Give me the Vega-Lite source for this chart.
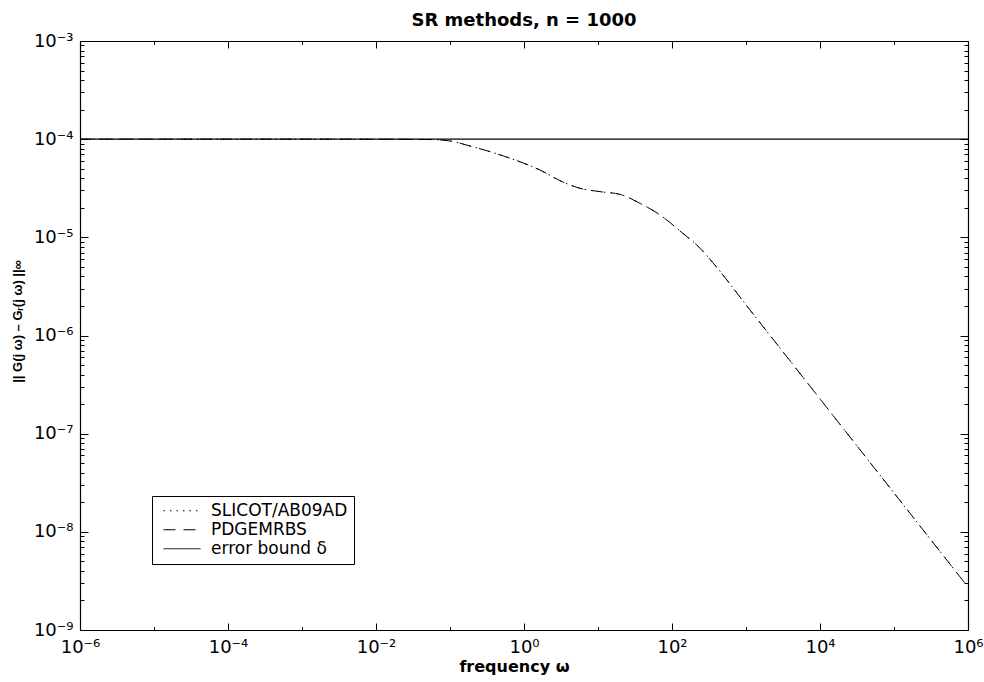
{
  "$schema": "https://vega.github.io/schema/vega-lite/v6.json",
  "autosize": {"type": "none"},
  "width": 888,
  "height": 589,
  "padding": {"left": 80, "top": 41, "right": 16, "bottom": 52},
  "background": "white",
  "config": {
    "view": {"stroke": null},
    "font": "DejaVu Sans",
    "axis": {
      "grid": false,
      "domainColor": "black",
      "domainWidth": 1.2,
      "tickColor": "black",
      "tickWidth": 1,
      "labelColor": "black",
      "labelFont": "DejaVu Sans",
      "labelFontSize": 18,
      "titleColor": "black",
      "titleFont": "DejaVu Sans",
      "titleFontWeight": "bold"
    }
  },
  "title": {
    "text": "SR methods, n = 1000",
    "font": "DejaVu Sans",
    "fontSize": 18,
    "fontWeight": "bold",
    "color": "black",
    "anchor": "middle",
    "frame": "group",
    "baseline": "alphabetic",
    "offset": 14,
    "dy": 26
  },
  "datasets": {
    "curves": [
      {"f": 0.000001, "v": 0.0001, "series": "SLICOT/AB09AD"},
      {"f": 0.001, "v": 0.0001, "series": "SLICOT/AB09AD"},
      {"f": 0.01, "v": 0.0000999, "series": "SLICOT/AB09AD"},
      {"f": 0.0537, "v": 0.0000991, "series": "SLICOT/AB09AD"},
      {"f": 0.1, "v": 0.0000958, "series": "SLICOT/AB09AD"},
      {"f": 0.186, "v": 0.0000852, "series": "SLICOT/AB09AD"},
      {"f": 0.348, "v": 0.0000746, "series": "SLICOT/AB09AD"},
      {"f": 0.71, "v": 0.0000624, "series": "SLICOT/AB09AD"},
      {"f": 1.0, "v": 0.0000568, "series": "SLICOT/AB09AD"},
      {"f": 1.644, "v": 0.0000485, "series": "SLICOT/AB09AD"},
      {"f": 3.06, "v": 0.0000378, "series": "SLICOT/AB09AD"},
      {"f": 5.71, "v": 0.0000316, "series": "SLICOT/AB09AD"},
      {"f": 10.64, "v": 0.0000292, "series": "SLICOT/AB09AD"},
      {"f": 19.8, "v": 0.0000274, "series": "SLICOT/AB09AD"},
      {"f": 37.0, "v": 0.0000222, "series": "SLICOT/AB09AD"},
      {"f": 68.9, "v": 0.0000169, "series": "SLICOT/AB09AD"},
      {"f": 128.2, "v": 0.0000116, "series": "SLICOT/AB09AD"},
      {"f": 238.8, "v": 0.00000776, "series": "SLICOT/AB09AD"},
      {"f": 358, "v": 0.0000055, "series": "SLICOT/AB09AD"},
      {"f": 1132, "v": 0.00000182, "series": "SLICOT/AB09AD"},
      {"f": 3162, "v": 0.000000681, "series": "SLICOT/AB09AD"},
      {"f": 10000, "v": 0.000000226, "series": "SLICOT/AB09AD"},
      {"f": 31623, "v": 0.000000075, "series": "SLICOT/AB09AD"},
      {"f": 100000, "v": 0.0000000249, "series": "SLICOT/AB09AD"},
      {"f": 316228, "v": 0.00000000826, "series": "SLICOT/AB09AD"},
      {"f": 1000000, "v": 0.00000000274, "series": "SLICOT/AB09AD"},
      {"f": 0.000001, "v": 0.0001, "series": "PDGEMRBS"},
      {"f": 0.001, "v": 0.0001, "series": "PDGEMRBS"},
      {"f": 0.01, "v": 0.0000999, "series": "PDGEMRBS"},
      {"f": 0.0537, "v": 0.0000991, "series": "PDGEMRBS"},
      {"f": 0.1, "v": 0.0000958, "series": "PDGEMRBS"},
      {"f": 0.186, "v": 0.0000852, "series": "PDGEMRBS"},
      {"f": 0.348, "v": 0.0000746, "series": "PDGEMRBS"},
      {"f": 0.71, "v": 0.0000624, "series": "PDGEMRBS"},
      {"f": 1.0, "v": 0.0000568, "series": "PDGEMRBS"},
      {"f": 1.644, "v": 0.0000485, "series": "PDGEMRBS"},
      {"f": 3.06, "v": 0.0000378, "series": "PDGEMRBS"},
      {"f": 5.71, "v": 0.0000316, "series": "PDGEMRBS"},
      {"f": 10.64, "v": 0.0000292, "series": "PDGEMRBS"},
      {"f": 19.8, "v": 0.0000274, "series": "PDGEMRBS"},
      {"f": 37.0, "v": 0.0000222, "series": "PDGEMRBS"},
      {"f": 68.9, "v": 0.0000169, "series": "PDGEMRBS"},
      {"f": 128.2, "v": 0.0000116, "series": "PDGEMRBS"},
      {"f": 238.8, "v": 0.00000776, "series": "PDGEMRBS"},
      {"f": 358, "v": 0.0000055, "series": "PDGEMRBS"},
      {"f": 1132, "v": 0.00000182, "series": "PDGEMRBS"},
      {"f": 3162, "v": 0.000000681, "series": "PDGEMRBS"},
      {"f": 10000, "v": 0.000000226, "series": "PDGEMRBS"},
      {"f": 31623, "v": 0.000000075, "series": "PDGEMRBS"},
      {"f": 100000, "v": 0.0000000249, "series": "PDGEMRBS"},
      {"f": 316228, "v": 0.00000000826, "series": "PDGEMRBS"},
      {"f": 1000000, "v": 0.00000000274, "series": "PDGEMRBS"}
    ],
    "bound": [
      {"f": 0.000001, "v": 0.0001, "series": "error bound δ"},
      {"f": 1000000, "v": 0.0001, "series": "error bound δ"}
    ]
  },
  "resolve": {"axis": {"x": "independent", "y": "independent"}},
  "layer": [
    {
      "data": {"name": "curves"},
      "mark": {"type": "line", "color": "black", "strokeWidth": 1, "interpolate": "monotone"},
      "encoding": {
        "x": {
          "field": "f", "type": "quantitative",
          "scale": {"type": "log", "domain": [0.000001, 1000000], "nice": false},
          "axis": {
            "orient": "bottom",
            "title": "frequency ω",
            "titleFontSize": 16,
            "titleX": 434,
            "titleY": 36,
            "titleBaseline": "middle",
            "values": [0.000001, 0.00001, 0.0001, 0.001, 0.01, 0.1, 1, 10, 100, 1000, 10000, 100000, 1000000],
            "labelExpr": "round(log(datum.value)/LN10) % 2 == 0 ? '10' + (round(log(datum.value)/LN10) < 0 ? '⁻' : '') + ['⁰','¹','²','³','⁴','⁵','⁶','⁷','⁸','⁹'][abs(round(log(datum.value)/LN10))] : ''",
            "tickSize": {"condition": {"test": "round(log(datum.value)/LN10) % 2 == 0", "value": -7}, "value": -3.5},
            "labelPadding": 15,
            "labelFlush": false,
            "labelOverlap": false,
            "labelBaseline": "top"
          }
        },
        "y": {
          "field": "v", "type": "quantitative",
          "scale": {"type": "log", "domain": [0.000000001, 0.001], "nice": false},
          "axis": {
            "orient": "left",
            "title": "|| G(j ω) – Gᵣ(j ω) ||∞",
            "titleFont": "Liberation Sans",
            "titleFontSize": 13,
            "titleX": -63,
            "titleY": 280,
            "titleBaseline": "middle",
            "values": [1e-9,2e-9,3e-9,4e-9,5e-9,6e-9,7e-9,8e-9,9e-9,1e-8,2e-8,3e-8,4e-8,5e-8,6e-8,7e-8,8e-8,9e-8,1e-7,2e-7,3e-7,4e-7,5e-7,6e-7,7e-7,8e-7,9e-7,1e-6,2e-6,3e-6,4e-6,5e-6,6e-6,7e-6,8e-6,9e-6,1e-5,2e-5,3e-5,4e-5,5e-5,6e-5,7e-5,8e-5,9e-5,1e-4,2e-4,3e-4,4e-4,5e-4,6e-4,7e-4,8e-4,9e-4,1e-3],
            "labelExpr": "abs(log(datum.value)/LN10 - round(log(datum.value)/LN10)) < 0.000001 ? '10' + (round(log(datum.value)/LN10) < 0 ? '⁻' : '') + ['⁰','¹','²','³','⁴','⁵','⁶','⁷','⁸','⁹'][abs(round(log(datum.value)/LN10))] : ''",
            "tickSize": {"condition": {"test": "abs(log(datum.value)/LN10 - round(log(datum.value)/LN10)) < 0.000001", "value": -8}, "value": -4},
            "labelPadding": 15,
            "labelFlush": false,
            "labelOverlap": false,
            "labelBaseline": "middle"
          }
        },
        "strokeDash": {
          "field": "series", "type": "nominal",
          "scale": {"domain": ["SLICOT/AB09AD", "PDGEMRBS", "error bound δ"], "range": [[1.5, 5], [12, 8], [1, 0]]},
          "legend": {
            "title": null,
            "orient": "none",
            "legendX": 72,
            "legendY": 455,
            "direction": "vertical",
            "strokeColor": "black",
            "fillColor": "white",
            "padding": 6,
            "cornerRadius": 0,
            "symbolType": "stroke",
            "symbolSize": 1369,
            "symbolStrokeWidth": 1,
            "symbolStrokeColor": "black",
            "symbolOffset": 5,
            "labelFont": "DejaVu Sans",
            "labelFontSize": 17,
            "labelColor": "black",
            "labelOffset": 10,
            "clipHeight": 17.5,
            "rowPadding": 0
          }
        }
      }
    },
    {
      "data": {"name": "bound"},
      "mark": {"type": "line", "color": "black", "strokeWidth": 1.2},
      "encoding": {
        "x": {
          "field": "f", "type": "quantitative",
          "axis": {
            "orient": "top",
            "title": null,
            "labels": false,
            "values": [0.000001, 0.00001, 0.0001, 0.001, 0.01, 0.1, 1, 10, 100, 1000, 10000, 100000, 1000000],
            "tickSize": {"condition": {"test": "round(log(datum.value)/LN10) % 2 == 0", "value": -7}, "value": -3.5}
          }
        },
        "y": {
          "field": "v", "type": "quantitative",
          "axis": {
            "orient": "right",
            "title": null,
            "labels": false,
            "values": [1e-9,2e-9,3e-9,4e-9,5e-9,6e-9,7e-9,8e-9,9e-9,1e-8,2e-8,3e-8,4e-8,5e-8,6e-8,7e-8,8e-8,9e-8,1e-7,2e-7,3e-7,4e-7,5e-7,6e-7,7e-7,8e-7,9e-7,1e-6,2e-6,3e-6,4e-6,5e-6,6e-6,7e-6,8e-6,9e-6,1e-5,2e-5,3e-5,4e-5,5e-5,6e-5,7e-5,8e-5,9e-5,1e-4,2e-4,3e-4,4e-4,5e-4,6e-4,7e-4,8e-4,9e-4,1e-3],
            "tickSize": {"condition": {"test": "abs(log(datum.value)/LN10 - round(log(datum.value)/LN10)) < 0.000001", "value": -8}, "value": -4}
          }
        },
        "strokeDash": {"field": "series", "type": "nominal"}
      }
    }
  ]
}
